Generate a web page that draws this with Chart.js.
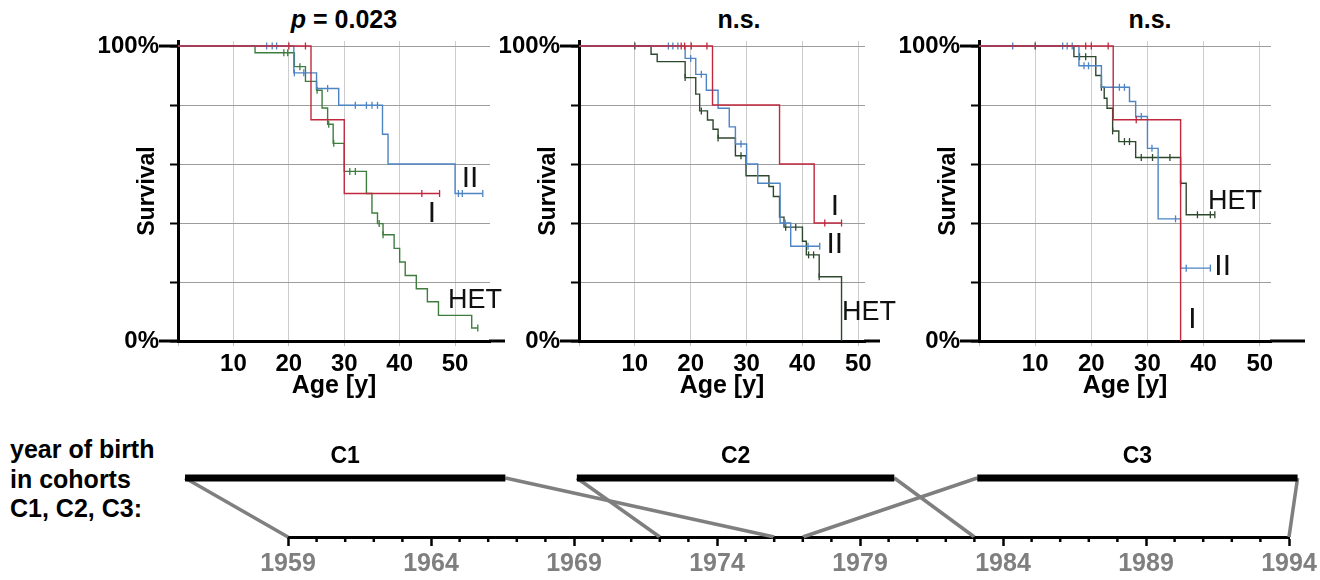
<!DOCTYPE html>
<html>
<head>
<meta charset="utf-8">
<script src="https://cdn.jsdelivr.net/npm/chart.js@4.4.1/dist/chart.umd.min.js"></script>
<style>
  html, body { margin: 0; padding: 0; background: #fff; }
  body { width: 1320px; height: 580px; position: relative; overflow: hidden;
         font-family: "Liberation Sans", Arial, sans-serif; }
  canvas { position: absolute; }
  .txt { position: absolute; font-weight: bold; color: #000; white-space: nowrap; }
  .title { top: 7px; font-size: 25px; line-height: 25px; transform: translateX(-50%); }
</style>
</head>
<body>
<div class="txt title" style="left:344px"><i>p</i> = 0.023</div>
<div class="txt title" style="left:739px">n.s.</div>
<div class="txt title" style="left:1150px">n.s.</div>
<div class="txt" style="left:10px; top:435px; font-size:25px; line-height:29.5px">year of birth<br>in cohorts<br>C1, C2, C3:</div>

<script>
// ---- data (age in years, survival in %) ----

// panel 1: p = 0.023
const p1ITimes = [24, 30];
const p1ISurv = [75, 50];
const p1ICens = [20, 23, 44, 47.2];
const p1IITimes = [20.9, 25, 29, 36.9, 37.9, 50];
const p1IISurv = [90.9, 85.6, 79.9, 70.1, 60, 50];
const p1IICens = [16, 17, 17.8, 21, 22.7, 27, 32, 34, 35, 36, 50.6, 51.3, 55];
const p1HetTimes = [13.9, 21, 23, 25, 26, 27, 28, 30, 34, 35, 36, 37, 39, 40, 41, 43, 45, 47, 53];
const p1HetSurv = [97.7, 93, 88, 85, 79, 73.5, 67, 57.5, 50, 43.4, 39.8, 36, 31.4, 26.8, 22.2, 17.7, 13.3, 8.7, 4.4];
const p1HetCens = [19.1, 19.8, 22, 25.1, 27.2, 28.1, 31, 32, 36.3, 37, 54.1];

// panel 2: n.s.
const p2ITimes = [23.9, 35.9, 42.1];
const p2ISurv = [80, 60, 40];
const p2ICens = [18.3, 18.9, 20.1, 22.9, 44, 47];
const p2IITimes = [19, 20.9, 22.8, 24.9, 26.9, 28, 30, 32, 36, 37.9];
const p2IISurv = [95.8, 90.4, 85, 78.9, 72.6, 66.8, 60, 53.5, 40, 32.1];
const p2IICens = [16, 16.8, 17.7, 20, 21.9, 29, 36.9, 41, 43.1];
const p2HetTimes = [12.9, 14, 19, 20.9, 21.6, 23, 24, 24.9, 28, 29.9, 34, 34.8, 35.9, 36.7, 40, 40.7, 43, 47];
const p2HetSurv = [97.2, 94.7, 89.3, 83.7, 78, 74.9, 71.8, 68.8, 62.8, 56, 52.4, 49, 42, 38.6, 33.8, 29.2, 21.8, 0];
const p2HetCens = [10, 19, 21.9, 24.9, 29, 37, 38.8, 41.1, 42, 43];

// panel 3: n.s.
const p3ITimes = [23.9, 35.9];
const p3ISurv = [75, 0];
const p3ICens = [19, 20, 23, 28];
const p3IITimes = [17.8, 21.8, 26.8, 27.9, 30, 31.9, 35.9];
const p3IISurv = [93.3, 86, 81.2, 76.1, 65.3, 41.4, 24.7];
const p3IICens = [6, 14.9, 15.7, 16.6, 18.7, 19.5, 25, 25.9, 28.9, 30.8, 35, 36.9, 41.2];
const p3HetTimes = [16.9, 20.8, 21.8, 22.3, 22.8, 23.8, 24.9, 27.9, 35.9, 36.9];
const p3HetSurv = [96.4, 90, 86, 82.3, 78.9, 71.2, 67.6, 62.2, 53.5, 42.8];
const p3HetCens = [10, 17.9, 19, 21.8, 23.8, 25.9, 26.8, 28.9, 30.9, 34, 35.9, 38.9, 41.2, 42];

// axis ticks
const ageTicks = [0, 10, 20, 30, 40, 50];
const ageTickLabels = ["", "10", "20", "30", "40", "50"];
const survTicks = [0, 20, 40, 60, 80, 100];
const survTickLabels = ["0%", "", "", "", "", "100%"];

// cohorts (year of birth)
const cohortNames = ["C1", "C2", "C3"];
const cohortFirstYear = [1959, 1972, 1977];
const cohortLastYear = [1976, 1983, 1994];
const yearTicks = [1959, 1964, 1969, 1974, 1979, 1984, 1989, 1994];

// ---- layout / style ----
const FONT = '"Liberation Sans", Arial, sans-serif';
const red = "#c0283e";
const blue = "#4d84c4";
const Y_AXIS_W = 100, PAD_L = 37, TOP = 41, KM_H = 404;

// where the schematic cohort bars sit, in year-axis units
const barDrawFrom = [1955.4, 1969.1, 1983.1];
const barDrawTo = [1966.6, 1980.2, 1994.3];

const survAt = (times, surv, t) => {
	let s = 100;
	times.forEach((ti, i) => {
		if (ti <= t) s = surv[i];
	});
	return s;
};

const kmCurve = (times, surv, cens) => {
	const pts = [{ x: 0, y: 100 }];
	times.forEach((t, i) => pts.push({ x: t, y: surv[i] }));
	const lastEvent = times[times.length - 1];
	const lastObs = Math.max(lastEvent, ...cens);
	if (lastObs > lastEvent) pts.push({ x: lastObs, y: surv[surv.length - 1] });
	return pts;
};

const kmDecor = {
	id: "kmDecor",
	afterDraw(chart, args, opts) {
		const { ctx, chartArea: a, scales: { x, y } } = chart;
		ctx.save();
		ctx.strokeStyle = "#000";
		ctx.lineWidth = 3;
		// long ticks next to the labelled values
		[0, 100].forEach((v) => {
			const py = y.getPixelForValue(v);
			ctx.beginPath();
			ctx.moveTo(a.left - 19, py);
			ctx.lineTo(a.left, py);
			ctx.stroke();
		});
		// x axis runs on a little past the grid
		ctx.beginPath();
		ctx.moveTo(a.right - 1, a.bottom);
		ctx.lineTo(a.right + opts.ext, a.bottom);
		ctx.stroke();
		// group labels
		ctx.fillStyle = "#111";
		ctx.textAlign = "center";
		ctx.textBaseline = "alphabetic";
		opts.labels.forEach((l) => {
			ctx.font = `${l.size}px ${FONT}`;
			ctx.fillText(l.text, x.getPixelForValue(l.x), y.getPixelForValue(l.y));
		});
		ctx.restore();
	},
};

const panels = [
	{
		left: 178, plotW: 312, xMax: 56.3, ext: 15, padR: 60,
		series: [
			[p1ITimes, p1ISurv, p1ICens, red],
			[p1IITimes, p1IISurv, p1IICens, blue],
			[p1HetTimes, p1HetSurv, p1HetCens, "#3f7d3f"],
		],
		labels: [
			{ text: "II", x: 52.7, y: 52.2, size: 30 },
			{ text: "I", x: 45.8, y: 40.4, size: 30 },
			{ text: "HET", x: 53.6, y: 11.2, size: 27 },
		],
	},
	{
		left: 579, plotW: 286, xMax: 51.2, ext: 15, padR: 60,
		series: [
			[p2ITimes, p2ISurv, p2ICens, red],
			[p2IITimes, p2IISurv, p2IICens, blue],
			[p2HetTimes, p2HetSurv, p2HetCens, "#2e482e"],
		],
		labels: [
			{ text: "I", x: 45.8, y: 42.7, size: 30 },
			{ text: "II", x: 45.8, y: 29.9, size: 30 },
			{ text: "HET", x: 51.9, y: 7.1, size: 27 },
		],
	},
	{
		left: 979, plotW: 292, xMax: 52, ext: 34, padR: 49,
		series: [
			[p3ITimes, p3ISurv, p3ICens, red],
			[p3IITimes, p3IISurv, p3IICens, blue],
			[p3HetTimes, p3HetSurv, p3HetCens, "#2e482e"],
		],
		labels: [
			{ text: "HET", x: 45.6, y: 44.6, size: 27 },
			{ text: "II", x: 43.4, y: 22.4, size: 30 },
			{ text: "I", x: 38, y: 4.3, size: 30 },
		],
	},
];

const addCanvas = (left, top, width, height) => {
	const c = document.createElement("canvas");
	c.width = width;
	c.height = height;
	c.style.left = left + "px";
	c.style.top = top + "px";
	c.style.width = width + "px";
	c.style.height = height + "px";
	document.body.appendChild(c);
	return c;
};

panels.forEach((p) => {
	const canvasLeft = p.left - PAD_L - Y_AXIS_W;
	const width = PAD_L + Y_AXIS_W + p.plotW + p.padR;
	const canvas = addCanvas(canvasLeft, 0, width, KM_H);

	const datasets = [];
	p.series.forEach(([times, surv, cens, color]) => {
		datasets.push({
			data: kmCurve(times, surv, cens),
			borderColor: color,
			borderWidth: 1.4,
			stepped: true,
			pointRadius: 0,
			fill: false,
			borderJoinStyle: "miter",
		});
		datasets.push({
			data: cens.map((c) => ({ x: c, y: survAt(times, surv, c) })),
			showLine: false,
			pointStyle: "line",
			rotation: 90,
			pointRadius: 3.5,
			pointBorderWidth: 1.3,
			pointBorderColor: color,
			borderColor: color,
		});
	});

	new Chart(canvas, {
		type: "line",
		data: { datasets },
		options: {
			responsive: false,
			animation: false,
			layout: { padding: { left: PAD_L, top: TOP, right: p.padR, bottom: 0 } },
			plugins: {
				legend: { display: false },
				tooltip: { enabled: false },
				kmDecor: { ext: p.ext, labels: p.labels },
			},
			scales: {
				x: {
					type: "linear",
					min: 0,
					max: p.xMax,
					afterBuildTicks: (s) => { s.ticks = ageTicks.map((v) => ({ value: v })); },
					afterFit: (s) => { s.height = KM_H - 341; },
					border: { color: "#000", width: 3 },
					grid: { color: "#cdcdcd", lineWidth: 1, tickLength: 5, tickColor: "#bdbdbd" },
					ticks: {
						autoSkip: false,
						maxRotation: 0,
						padding: 4,
						color: "#000",
						font: { family: FONT, size: 24, weight: "bold" },
						callback: (v, i) => ageTickLabels[i],
					},
					title: {
						display: true,
						text: "Age [y]",
						color: "#000",
						font: { family: FONT, size: 25, weight: "bold" },
						padding: { top: 0, bottom: 3 },
					},
				},
				y: {
					type: "linear",
					min: 0,
					max: 101.7,
					afterBuildTicks: (s) => { s.ticks = survTicks.map((v) => ({ value: v })); },
					afterFit: (s) => { s.width = Y_AXIS_W; },
					border: { color: "#000", width: 3 },
					grid: { color: "#9c9c9c", lineWidth: 1, tickLength: 8, tickColor: "#000", tickWidth: 2 },
					ticks: {
						padding: 11,
						color: "#000",
						font: { family: FONT, size: 24, weight: "bold" },
						callback: (v, i) => survTickLabels[i],
					},
					title: {
						display: true,
						text: "Survival",
						color: "#000",
						font: { family: FONT, size: 23, weight: "bold" },
						padding: { top: 56, bottom: 0 },
					},
				},
			},
		},
		plugins: [kmDecor],
	});
});

// ---- cohort timeline ----
const cohortDecor = {
	id: "cohortDecor",
	afterDraw(chart) {
		const { ctx, chartArea: a, scales: { x, y } } = chart;
		ctx.save();
		// one-year minor ticks
		ctx.strokeStyle = "#000";
		ctx.lineWidth = 2.5;
		for (let yr = yearTicks[0]; yr <= yearTicks[yearTicks.length - 1]; yr++) {
			if (yearTicks.includes(yr)) continue;
			const px = x.getPixelForValue(yr);
			ctx.beginPath();
			ctx.moveTo(px, a.bottom);
			ctx.lineTo(px, a.bottom + 5);
			ctx.stroke();
		}
		// cohort names over the bars
		ctx.fillStyle = "#000";
		ctx.font = `bold 23px ${FONT}`;
		ctx.textAlign = "center";
		ctx.textBaseline = "alphabetic";
		cohortNames.forEach((name, i) => {
			const mid = (barDrawFrom[i] + barDrawTo[i]) / 2;
			ctx.fillText(name, x.getPixelForValue(mid), y.getPixelForValue(1) - 15);
		});
		ctx.restore();
	},
};

const cohortSets = [];
cohortNames.forEach((name, i) => {
	cohortSets.push({
		data: [{ x: barDrawFrom[i], y: 1 }, { x: barDrawTo[i], y: 1 }],
		borderColor: "#000",
		borderWidth: 7,
		borderCapStyle: "butt",
		pointRadius: 0,
		clip: false,
	});
});
cohortNames.forEach((name, i) => {
	cohortSets.push({
		data: [{ x: barDrawFrom[i], y: 1 }, { x: cohortFirstYear[i], y: 0 }],
		borderColor: "#7f7f7f",
		borderWidth: 3.5,
		pointRadius: 0,
		clip: false,
	});
	cohortSets.push({
		data: [{ x: barDrawTo[i], y: 1 }, { x: cohortLastYear[i], y: 0 }],
		borderColor: "#7f7f7f",
		borderWidth: 3.5,
		pointRadius: 0,
		clip: false,
	});
});

const timelineCanvas = addCanvas(0, 410, 1320, 170);
new Chart(timelineCanvas, {
	type: "line",
	data: { datasets: cohortSets },
	options: {
		responsive: false,
		animation: false,
		layout: { padding: { left: 288, right: 31, top: 68, bottom: 0 } },
		plugins: { legend: { display: false }, tooltip: { enabled: false } },
		scales: {
			x: {
				type: "linear",
				min: yearTicks[0],
				max: yearTicks[yearTicks.length - 1],
				afterBuildTicks: (s) => { s.ticks = yearTicks.map((v) => ({ value: v })); },
				afterFit: (s) => { s.height = 43; },
				border: { color: "#000", width: 3 },
				grid: { drawOnChartArea: false, tickLength: 9, tickColor: "#000", tickWidth: 2.5 },
				ticks: {
					autoSkip: false,
					maxRotation: 0,
					padding: 3,
					color: "#7f7f7f",
					font: { family: FONT, size: 25, weight: "bold" },
					callback: (v, i) => String(yearTicks[i]),
				},
			},
			y: { display: false, min: 0, max: 1 },
		},
	},
	plugins: [cohortDecor],
});
</script>
</body>
</html>
